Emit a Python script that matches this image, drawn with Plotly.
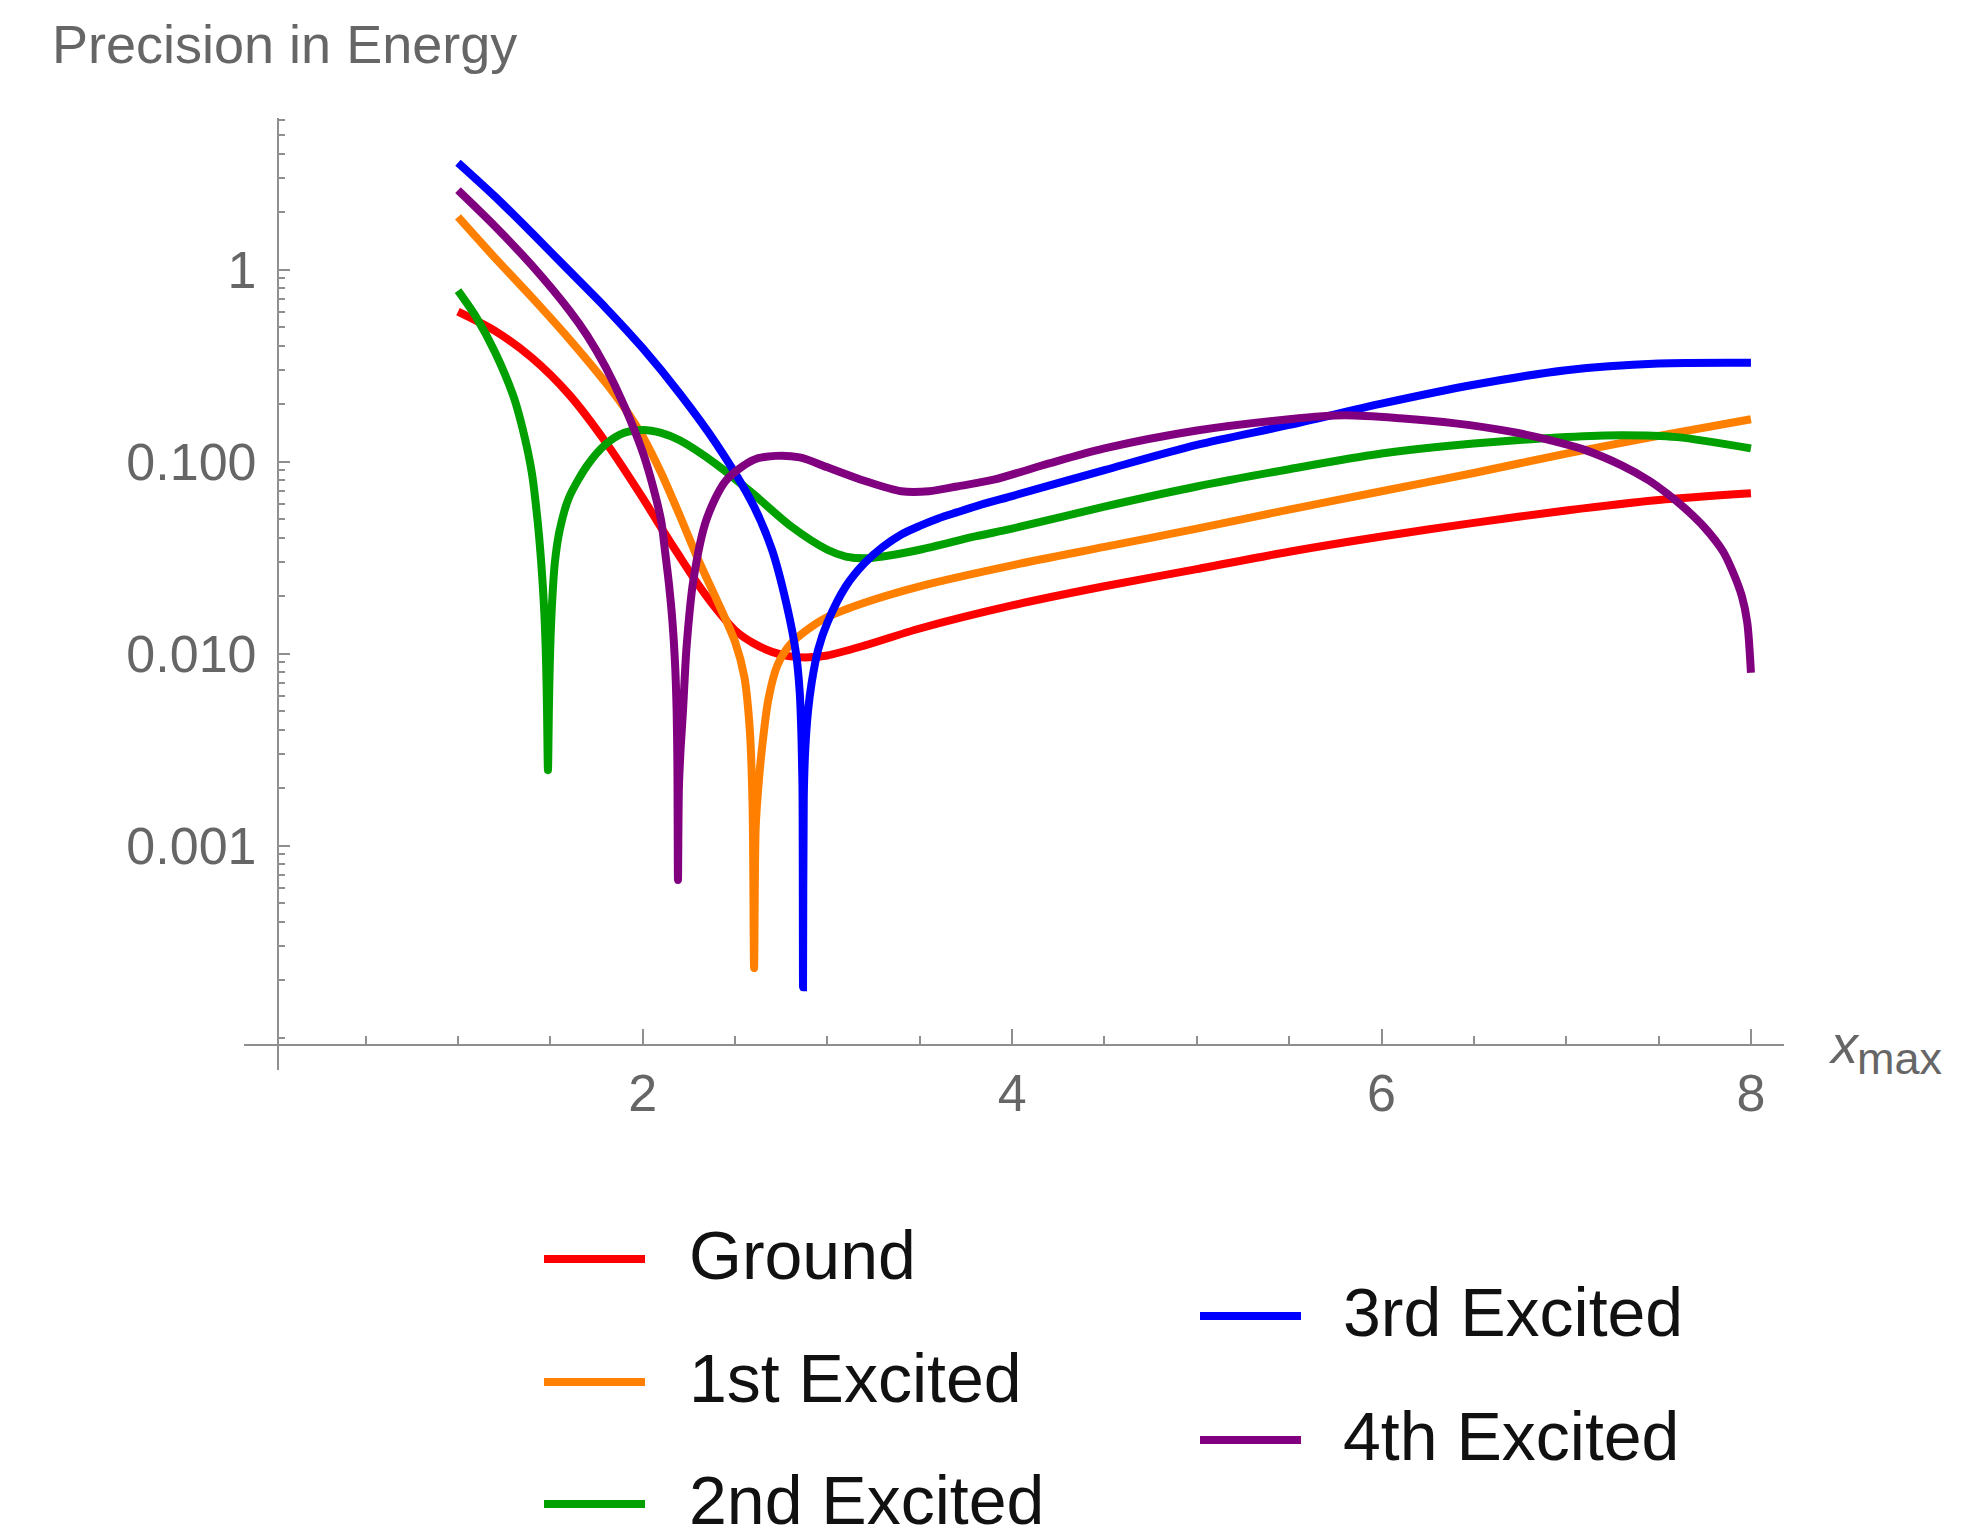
import plotly.graph_objects as go

# ---------------- data ----------------
names = ["Ground", "1st Excited", "2nd Excited", "3rd Excited", "4th Excited"]
colors = ["#FF0000", "#FF8000", "#00A000", "#0000FF", "#800080"]

ground_x = [1.0, 1.2, 1.4, 1.6, 1.8, 2.0, 2.1, 2.2, 2.3, 2.4, 2.5, 2.6, 2.7, 2.8, 2.9, 3.0,
            3.2, 3.5, 4.0, 4.5, 5.0, 5.5, 6.0, 6.5, 7.0, 7.5, 8.0]
ground_y = [0.603, 0.479, 0.347, 0.224, 0.126, 0.0646, 0.0452, 0.0320, 0.0229, 0.0170,
            0.0132, 0.0113, 0.0102, 0.00966, 0.00955, 0.00977, 0.0110, 0.0135, 0.0178,
            0.0224, 0.0275, 0.0339, 0.0407, 0.0479, 0.0556, 0.0631, 0.0684]

first_x = [1.0, 1.2, 1.4, 1.6, 1.8, 1.9, 2.0, 2.1, 2.2, 2.3, 2.4, 2.5, 2.55, 2.58, 2.595,
           2.603, 2.612, 2.63, 2.645, 2.68, 2.73, 2.8, 2.9, 3.0, 3.2, 3.5, 4.0, 4.5, 5.0,
           5.5, 6.0, 6.5, 7.0, 7.5, 8.0]
first_y = [1.88, 1.15, 0.716, 0.437, 0.257, 0.191, 0.135, 0.0871, 0.0525, 0.0309, 0.0191,
           0.0115, 0.00759, 0.00398, 0.00158, 0.000230, 0.00126, 0.00224, 0.00316, 0.00575,
           0.00871, 0.0112, 0.0135, 0.0155, 0.0184, 0.0224, 0.0288, 0.0359, 0.0447, 0.0562,
           0.0700, 0.0871, 0.110, 0.136, 0.166]

second_x = [1.0, 1.1, 1.2, 1.3, 1.35, 1.4, 1.43, 1.45, 1.467, 1.477, 1.482, 1.487, 1.492,
            1.497, 1.507, 1.525, 1.55, 1.6, 1.7, 1.8, 1.9, 2.0, 2.1, 2.2, 2.4, 2.6, 2.8,
            3.0, 3.1, 3.2, 3.3, 3.5, 3.8, 4.0, 4.5, 5.0, 5.5, 6.0, 6.5, 7.0, 7.3, 7.6, 8.0]
second_y = [0.776, 0.562, 0.372, 0.219, 0.148, 0.0871, 0.0501, 0.0302, 0.0166, 0.00891,
            0.00501, 0.00247, 0.00501, 0.00891, 0.0166, 0.0302, 0.0437, 0.0646, 0.0955,
            0.123, 0.141, 0.146, 0.141, 0.129, 0.0966, 0.0676, 0.0462, 0.0347, 0.0320,
            0.0313, 0.0320, 0.0347, 0.0407, 0.0447, 0.0582, 0.0741, 0.0912, 0.110, 0.124,
            0.134, 0.137, 0.134, 0.117]

third_x = [1.0, 1.2, 1.4, 1.6, 1.8, 2.0, 2.2, 2.4, 2.6, 2.7, 2.78, 2.83, 2.85, 2.86, 2.865,
           2.868, 2.872, 2.88, 2.895, 2.915, 2.95, 3.0, 3.1, 3.2, 3.3, 3.4, 3.5, 3.6, 3.7,
           3.85, 4.0, 4.5, 5.0, 5.5, 6.0, 6.5, 7.0, 7.5, 8.0]
third_y = [3.60, 2.40, 1.55, 0.989, 0.631, 0.389, 0.226, 0.123, 0.0589, 0.0347, 0.0178,
           0.0100, 0.00631, 0.00355, 0.00200, 0.000183, 0.00178, 0.00316, 0.00501, 0.00708,
           0.0105, 0.0145, 0.0224, 0.0295, 0.0359, 0.0417, 0.0462, 0.0505, 0.0543, 0.0603,
           0.0661, 0.0902, 0.122, 0.155, 0.200, 0.251, 0.299, 0.324, 0.327]

fourth_x = [1.0, 1.2, 1.4, 1.6, 1.7, 1.8, 1.9, 2.0, 2.05, 2.1, 2.12, 2.14, 2.16, 2.175,
            2.184, 2.188, 2.191, 2.196, 2.205, 2.218, 2.238, 2.274, 2.346, 2.45, 2.6, 2.72,
            2.85, 3.0, 3.2, 3.4, 3.55, 3.7, 3.9, 4.2, 4.5, 5.0, 5.5, 5.8, 6.1, 6.4, 6.7,
            6.9, 7.1, 7.3, 7.45, 7.55, 7.65, 7.75, 7.85, 7.9, 7.95, 7.98, 8.0]
fourth_y = [2.59, 1.68, 1.05, 0.617, 0.452, 0.309, 0.195, 0.112, 0.0776, 0.0490, 0.0347,
            0.0240, 0.0151, 0.00891, 0.00490, 0.00251, 0.000661, 0.00200, 0.00316, 0.00501,
            0.0110, 0.0240, 0.0501, 0.0794, 0.102, 0.107, 0.105, 0.0933, 0.0794, 0.0700,
            0.0700, 0.0741, 0.0804, 0.0977, 0.117, 0.145, 0.166, 0.174, 0.168, 0.158, 0.143,
            0.130, 0.115, 0.0955, 0.0794, 0.0676, 0.0562, 0.0452, 0.0339, 0.0269, 0.0200,
            0.0145, 0.00794]

series_x = [ground_x, first_x, second_x, third_x, fourth_x]
series_y = [ground_y, first_y, second_y, third_y, fourth_y]

x_major_ticks = [2, 4, 6, 8]
x_minor_ticks = [0.5, 1, 1.5, 2.5, 3, 3.5, 4.5, 5, 5.5, 6.5, 7, 7.5]
y_major_ticks = [0.001, 0.01, 0.1, 1]
y_major_labels = ["0.001", "0.010", "0.100", "1"]
y_minor_ticks = [0.0001] + [m * 10.0 ** k for k in range(-4, 0) for m in range(2, 10)] \
    + [2, 3, 4, 5, 6]

# ---------------- layout geometry ----------------
W, H = 1984, 1526
ML, MR, MT, MB = 244, 200, 118, 456
PW, PH = W - ML - MR, H - MT - MB
X_RANGE = [-0.1586, 8.179]
Y_LOG_RANGE = [-4.169, 0.789]
X_AXIS_LOG = -4.04   # where the horizontal axis crosses (log10 units)
Y_AXIS_X = 0.025     # where the vertical axis crosses

def paper_x(px):
    return (px - ML) / PW

def paper_y(py):
    return 1 - (py - MT) / PH

AX_COLOR = "#8f8f8f"
LABEL_COLOR = "#666666"
FONT = "Liberation Sans, Arial, Helvetica, sans-serif"

fig = go.Figure()
for name, color, xs, ys in zip(names, colors, series_x, series_y):
    fig.add_trace(go.Scatter(
        x=xs, y=ys, mode="lines", name=name,
        line=dict(color=color, width=8, shape="spline", smoothing=0.8),
        showlegend=False, hoverinfo="skip"))

x_axis_pos = (X_AXIS_LOG - Y_LOG_RANGE[0]) / (Y_LOG_RANGE[1] - Y_LOG_RANGE[0])
y_axis_pos = (Y_AXIS_X - X_RANGE[0]) / (X_RANGE[1] - X_RANGE[0])

fig.update_layout(
    width=W, height=H,
    margin=dict(l=ML, r=MR, t=MT, b=MB, pad=0),
    paper_bgcolor="white", plot_bgcolor="white",
    showlegend=False,
    font=dict(family=FONT, color=LABEL_COLOR),
    xaxis=dict(
        range=X_RANGE, anchor="free", position=x_axis_pos,
        showgrid=False, zeroline=False,
        showline=True, linecolor=AX_COLOR, linewidth=2,
        tickmode="array", tickvals=x_major_ticks,
        ticktext=[str(v) for v in x_major_ticks],
        ticks="inside", ticklen=15, tickwidth=1.5, tickcolor=AX_COLOR,
        tickfont=dict(family=FONT, size=52, color=LABEL_COLOR),
        ticklabelstandoff=2,
        minor=dict(tickmode="array", tickvals=x_minor_ticks, ticks="inside",
                   ticklen=8, tickwidth=1.5, tickcolor=AX_COLOR, showgrid=False),
    ),
    yaxis=dict(
        type="log", range=Y_LOG_RANGE, anchor="free", position=y_axis_pos,
        showgrid=False, zeroline=False,
        showline=True, linecolor=AX_COLOR, linewidth=2,
        tickmode="array", tickvals=y_major_ticks, ticktext=y_major_labels,
        ticks="inside", ticklen=11, tickwidth=1.5, tickcolor=AX_COLOR,
        tickfont=dict(family=FONT, size=52, color=LABEL_COLOR),
        ticklabelstandoff=10,
        minor=dict(tickmode="array", tickvals=y_minor_ticks, ticks="inside",
                   ticklen=6, tickwidth=1.5, tickcolor=AX_COLOR, showgrid=False),
    ),
)

annotations = [
    dict(text="Precision in Energy", xref="paper", yref="paper",
         x=paper_x(50), y=paper_y(44), xanchor="left", yanchor="middle",
         showarrow=False, font=dict(family=FONT, size=54, color=LABEL_COLOR)),
    dict(text="<i>x</i>", xref="paper", yref="paper",
         x=paper_x(1826), y=paper_y(1044), xanchor="left", yanchor="middle",
         showarrow=False, font=dict(family=FONT, size=54, color=LABEL_COLOR)),
    dict(text="max", xref="paper", yref="paper",
         x=paper_x(1855), y=paper_y(1058), xanchor="left", yanchor="middle",
         showarrow=False, font=dict(family=FONT, size=45, color=LABEL_COLOR)),
]

# legend, built from names/colors: two columns
legend_rows = [(544, 687, 1259), (544, 687, 1382), (544, 687, 1504),
               (1200, 1341, 1316), (1200, 1341, 1440)]
shapes = []
for name, color, (sx, tx, ly) in zip(names, colors, legend_rows):
    shapes.append(dict(type="line", xref="paper", yref="paper",
                       x0=paper_x(sx), x1=paper_x(sx + 101),
                       y0=paper_y(ly), y1=paper_y(ly),
                       line=dict(color=color, width=8)))
    annotations.append(dict(text=name, xref="paper", yref="paper",
                            x=paper_x(tx), y=paper_y(ly - 4), xanchor="left",
                            yanchor="middle", showarrow=False,
                            font=dict(family=FONT, size=68, color="#111111")))

fig.update_layout(annotations=annotations, shapes=shapes)

fig.write_html(
    "out.html",
    config={"displayModeBar": False},
    post_script="document.body.style.margin='0px';document.body.style.overflow='hidden';",
)
